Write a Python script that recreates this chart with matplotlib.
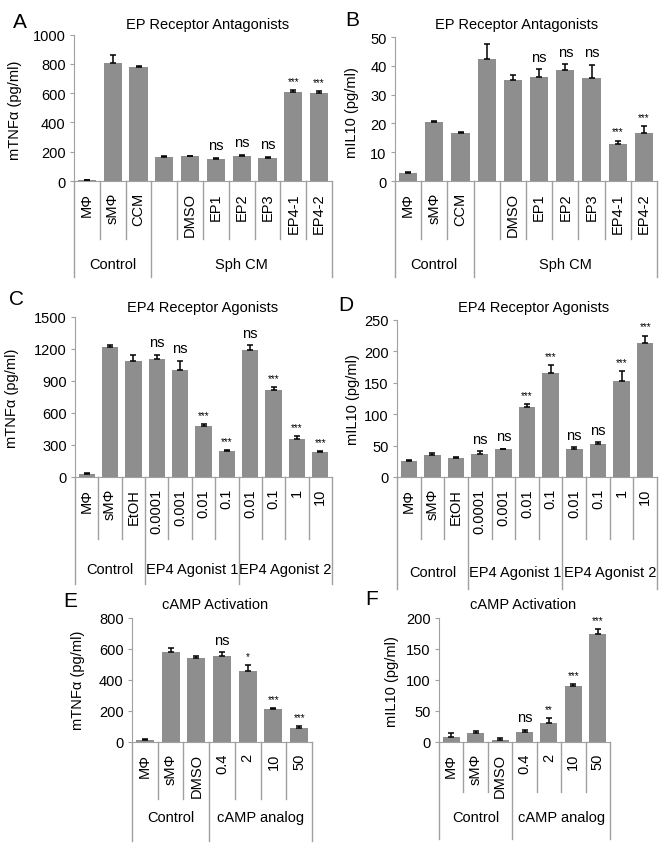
import matplotlib
matplotlib.use("Agg")
import matplotlib.pyplot as plt
import matplotlib.transforms as mtransforms

plt.rcParams['font.family'] = ['Liberation Sans', 'DejaVu Sans']
plt.rcParams['font.size'] = 10

W, H = 670, 854

# ---- data ----
a_cats = ['MΦ', 'sMΦ', 'CCM', '', 'DMSO', 'EP1', 'EP2', 'EP3', 'EP4-1', 'EP4-2']
a_groups = [('Control', 3), ('Sph CM', 7)]
a_tnf = [5, 805, 780, 165, 170, 153, 168, 160, 605, 603]
a_tnf_err = [2, 55, 8, 5, 4, 6, 10, 6, 15, 8]
a_il10 = [2.8, 20.5, 16.8, 42.5, 35, 36, 38.5, 35.8, 12.8, 16.8]
a_il10_err = [0.3, 0.2, 0.3, 5, 1.8, 2.8, 2.0, 4.5, 1.2, 2.2]
a_tnf_sig = ['', '', '', '', '', 'ns', 'ns', 'ns', '***', '***']
a_il10_sig = ['', '', '', '', '', 'ns', 'ns', 'ns', '***', '***']

c_cats = ['MΦ', 'sMΦ', 'EtOH', '0.0001', '0.001', '0.01', '0.1', '0.01', '0.1', '1', '10']
c_groups = [('Control', 3), ('EP4 Agonist 1', 4), ('EP4 Agonist 2', 4)]
c_tnf = [30, 1215, 1085, 1110, 1000, 480, 245, 1190, 820, 355, 235]
c_tnf_err = [5, 20, 60, 35, 90, 15, 10, 45, 20, 25, 5]
c_il10 = [26, 35, 30, 36, 44, 112, 166, 44, 52, 153, 214]
c_il10_err = [1.5, 3, 2, 5, 1, 4, 12, 3, 3, 15, 11]
c_tnf_sig = ['', '', '', 'ns', 'ns', '***', '***', 'ns', '***', '***', '***']
c_il10_sig = ['', '', '', 'ns', 'ns', '***', '***', 'ns', 'ns', '***', '***']

e_cats = ['MΦ', 'sMΦ', 'DMSO', '0.4', '2', '10', '50']
e_groups = [('Control', 3), ('cAMP analog', 4)]
e_tnf = [15, 578, 540, 553, 455, 212, 92]
e_tnf_err = [3, 30, 18, 25, 40, 8, 12]
e_il10 = [8, 14, 4, 16, 31, 91, 174]
e_il10_err = [7, 4, 3, 4, 8, 2, 8]
e_tnf_sig = ['', '', '', 'ns', '*', '***', '***']
e_il10_sig = ['', '', '', 'ns', '**', '***', '***']

BAR = '#8e8e8e'
AXC = '#a0a0a0'
FS = 10.5

fig = plt.figure(figsize=(W / 100, H / 100), dpi=100)


def panel(box, cats, groups, vals, errs, sigs, ymax, ystep, title, ylabel,
          letter, sep_bot, grp_bot, grp_y, title_xy, ylab_xy, letter_xy):
    x0, ytop, x1, yzero = box
    ax = fig.add_axes([x0 / W, 1 - yzero / H, (x1 - x0) / W, (yzero - ytop) / H])
    n = len(cats)
    xs = list(range(n))
    ax.bar(xs, vals, width=0.7, color=BAR, zorder=2)
    ax.errorbar(xs, vals, yerr=[[0] * n, errs], fmt='none', ecolor='black',
                elinewidth=1.1, capsize=2.5, capthick=1.1, zorder=3)
    ax.set_xlim(-0.5, n - 0.5)
    ax.set_ylim(0, ymax)
    ax.set_yticks(range(0, int(ymax) + 1, ystep))
    for s in ['top', 'right']:
        ax.spines[s].set_visible(False)
    for s in ['left', 'bottom']:
        ax.spines[s].set_color(AXC)
    ax.tick_params(axis='y', direction='out', length=3, color=AXC, labelsize=FS, pad=3)
    ax.set_xticks(xs)
    ax.set_xticklabels(cats, rotation=90, fontsize=FS)
    ax.tick_params(axis='x', length=0, pad=8)

    for i, s in enumerate(sigs):
        if not s:
            continue
        top = vals[i] + errs[i]
        if s == 'ns':
            ax.annotate(s, (i, top), xytext=(0, 4), textcoords='offset points',
                        ha='center', va='bottom', fontsize=FS)
        else:
            ax.annotate(s, (i, top), xytext=(0, 3), textcoords='offset points',
                        ha='center', va='bottom', fontsize=7)

    # multi-level category axis lines
    tr = mtransforms.blended_transform_factory(ax.transData, fig.transFigure)
    y0f = 1 - yzero / H
    bounds = [-0.5]
    k = 0
    for name, cnt in groups:
        k += cnt
        bounds.append(k - 0.5)
    for b in range(n + 1):
        xb = b - 0.5
        bot = grp_bot if xb in bounds else sep_bot
        ax.plot([xb, xb], [y0f, 1 - bot / H], color=AXC, lw=1,
                transform=tr, clip_on=False)
    k = 0
    for name, cnt in groups:
        ax.text(k + (cnt - 1) / 2, 1 - grp_y / H, name, transform=tr,
                ha='center', va='center', fontsize=FS)
        k += cnt

    fig.text(title_xy[0] / W, 1 - title_xy[1] / H, title, ha='center',
             va='center', fontsize=FS)
    fig.text(ylab_xy[0] / W, 1 - ylab_xy[1] / H, ylabel, rotation=90,
             ha='center', va='center', fontsize=FS)
    fig.text(letter_xy[0] / W, 1 - letter_xy[1] / H, letter, ha='center',
             va='center', fontsize=15)
    return ax


panel((74, 35.5, 332, 182), a_cats, a_groups, a_tnf, a_tnf_err, a_tnf_sig,
      1000, 200, 'EP Receptor Antagonists', 'mTNFα (pg/ml)', 'A',
      240, 278, 265, (208, 25), (15, 110), (20, 22))
panel((395, 38, 657, 182), a_cats, a_groups, a_il10, a_il10_err, a_il10_sig,
      50, 10, 'EP Receptor Antagonists', 'mIL10 (pg/ml)', 'B',
      240, 278, 265, (517, 25), (352, 113), (352, 20))
panel((75, 318, 332, 478), c_cats, c_groups, c_tnf, c_tnf_err, c_tnf_sig,
      1500, 300, 'EP4 Receptor Agonists', 'mTNFα (pg/ml)', 'C',
      540, 585, 570, (203, 308), (12, 398), (17, 300))
panel((397, 321, 657, 478), c_cats, c_groups, c_il10, c_il10_err, c_il10_sig,
      250, 50, 'EP4 Receptor Agonists', 'mIL10 (pg/ml)', 'D',
      540, 590, 573, (534, 308), (353, 400), (346, 306))
panel((132, 619, 312, 743), e_cats, e_groups, e_tnf, e_tnf_err, e_tnf_sig,
      800, 200, 'cAMP Activation', 'mTNFα (pg/ml)', 'E',
      800, 842, 818, (215, 605), (78, 680), (70, 602))
panel((439, 619, 610, 743), e_cats, e_groups, e_il10, e_il10_err, e_il10_sig,
      200, 50, 'cAMP Activation', 'mIL10 (pg/ml)', 'F',
      793, 840, 818, (523, 605), (392, 682), (372, 600))

fig.savefig('out.png', dpi=100)
